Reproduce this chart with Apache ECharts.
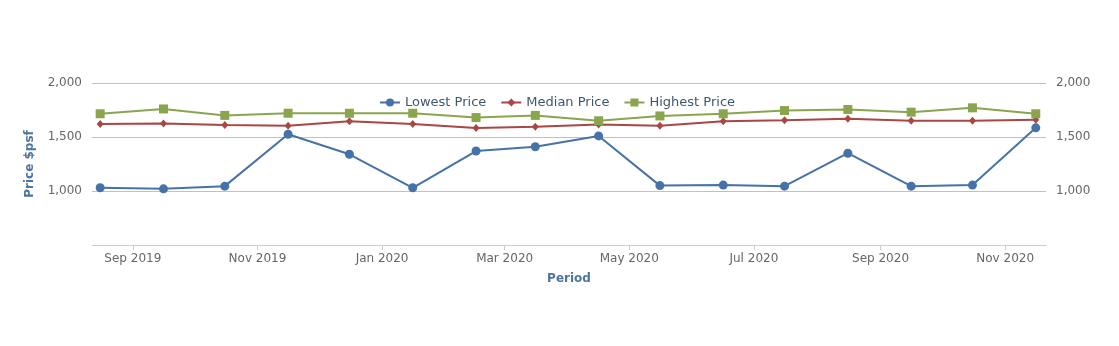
<!DOCTYPE html>
<html>
<head>
<meta charset="utf-8">
<script src="https://cdn.jsdelivr.net/npm/echarts@6/dist/echarts.min.js"></script>
<style>
html,body{margin:0;padding:0;background:#fff;}
#chart{width:1119px;height:346px;}
</style>
</head>
<body>
<div id="chart"></div>
<script>
var periods = ['2019-08-16','2019-09-16','2019-10-16','2019-11-16','2019-12-16','2020-01-16','2020-02-16','2020-03-16','2020-04-16','2020-05-16','2020-06-16','2020-07-16','2020-08-16','2020-09-16','2020-10-16','2020-11-16'];
var lowestPrice = [1030,1020,1045,1525,1340,1030,1370,1410,1510,1050,1055,1045,1350,1045,1055,1585];
var medianPrice = [1620,1626,1610,1605,1645,1620,1583,1595,1615,1605,1645,1655,1670,1650,1650,1660];
var highestPrice = [1715,1760,1700,1720,1720,1720,1680,1700,1650,1695,1715,1745,1755,1730,1770,1715];
var yTicks = [500,1000,1500,2000];

function pairs(vals){ return periods.map(function(d,i){ return [d, vals[i]]; }); }

var FONT = 'DejaVu Sans';
var chart = echarts.init(document.getElementById('chart'), null, {renderer:'canvas'});
var yAxisBase = {
  type:'value', min: yTicks[0], max: yTicks[yTicks.length-1], interval: 500,
  axisLine:{show:false}, axisTick:{show:false},
  axisLabel:{color:'#666', fontSize:12, fontFamily:FONT, margin:10,
    formatter:function(v){ return v === yTicks[0] ? '' : echarts.format.addCommas(v); }}
};
chart.setOption({
  animation:false,
  textStyle:{fontFamily:FONT},
  grid:{left:92, right:73, top:83, bottom:101, containLabel:false},
  legend:{
    left:374, top:91, itemWidth:20, itemHeight:10, itemGap:14,
    textStyle:{color:'#3E576F', fontSize:13, fontFamily:FONT},
    data:['Lowest Price','Median Price','Highest Price']
  },
  xAxis:{
    type:'time', min:'2019-08-12', max:'2020-11-21', splitNumber:6,
    name:'Period', nameLocation:'middle', nameGap:28,
    nameTextStyle:{color:'#4d759e', fontWeight:'bold', fontSize:12, fontFamily:FONT},
    axisLine:{show:true, lineStyle:{color:'#C0D0E0', width:1}},
    axisTick:{show:true, length:5, lineStyle:{color:'#C0D0E0'}},
    splitLine:{show:false},
    axisLabel:{color:'#666', fontSize:12, fontFamily:FONT, margin:8,
      formatter:function(v){ return echarts.time.format(v, '{MMM} {yyyy}', false); }}
  },
  yAxis:[
    Object.assign({}, yAxisBase, {
      position:'left',
      name:'Price $psf', nameLocation:'middle', nameGap:56, nameRotate:90,
      nameTextStyle:{color:'#4d759e', fontWeight:'bold', fontSize:12, fontFamily:FONT},
      splitLine:{show:true, lineStyle:{color:'#C0C0C0', width:1}}
    }),
    Object.assign({}, yAxisBase, {
      position:'right', splitLine:{show:false}
    })
  ],
  series:[
    {name:'Lowest Price', type:'line', data:pairs(lowestPrice), symbol:'circle', symbolSize:9,
     itemStyle:{color:'#4572A7'}, lineStyle:{color:'#4572A7', width:2}},
    {name:'Median Price', type:'line', data:pairs(medianPrice), symbol:'diamond', symbolSize:[7,8],
     itemStyle:{color:'#AA4643'}, lineStyle:{color:'#AA4643', width:2}},
    {name:'Highest Price', type:'line', data:pairs(highestPrice), symbol:'rect', symbolSize:9,
     itemStyle:{color:'#89A54E'}, lineStyle:{color:'#89A54E', width:2}}
  ]
});
</script>
</body>
</html>
